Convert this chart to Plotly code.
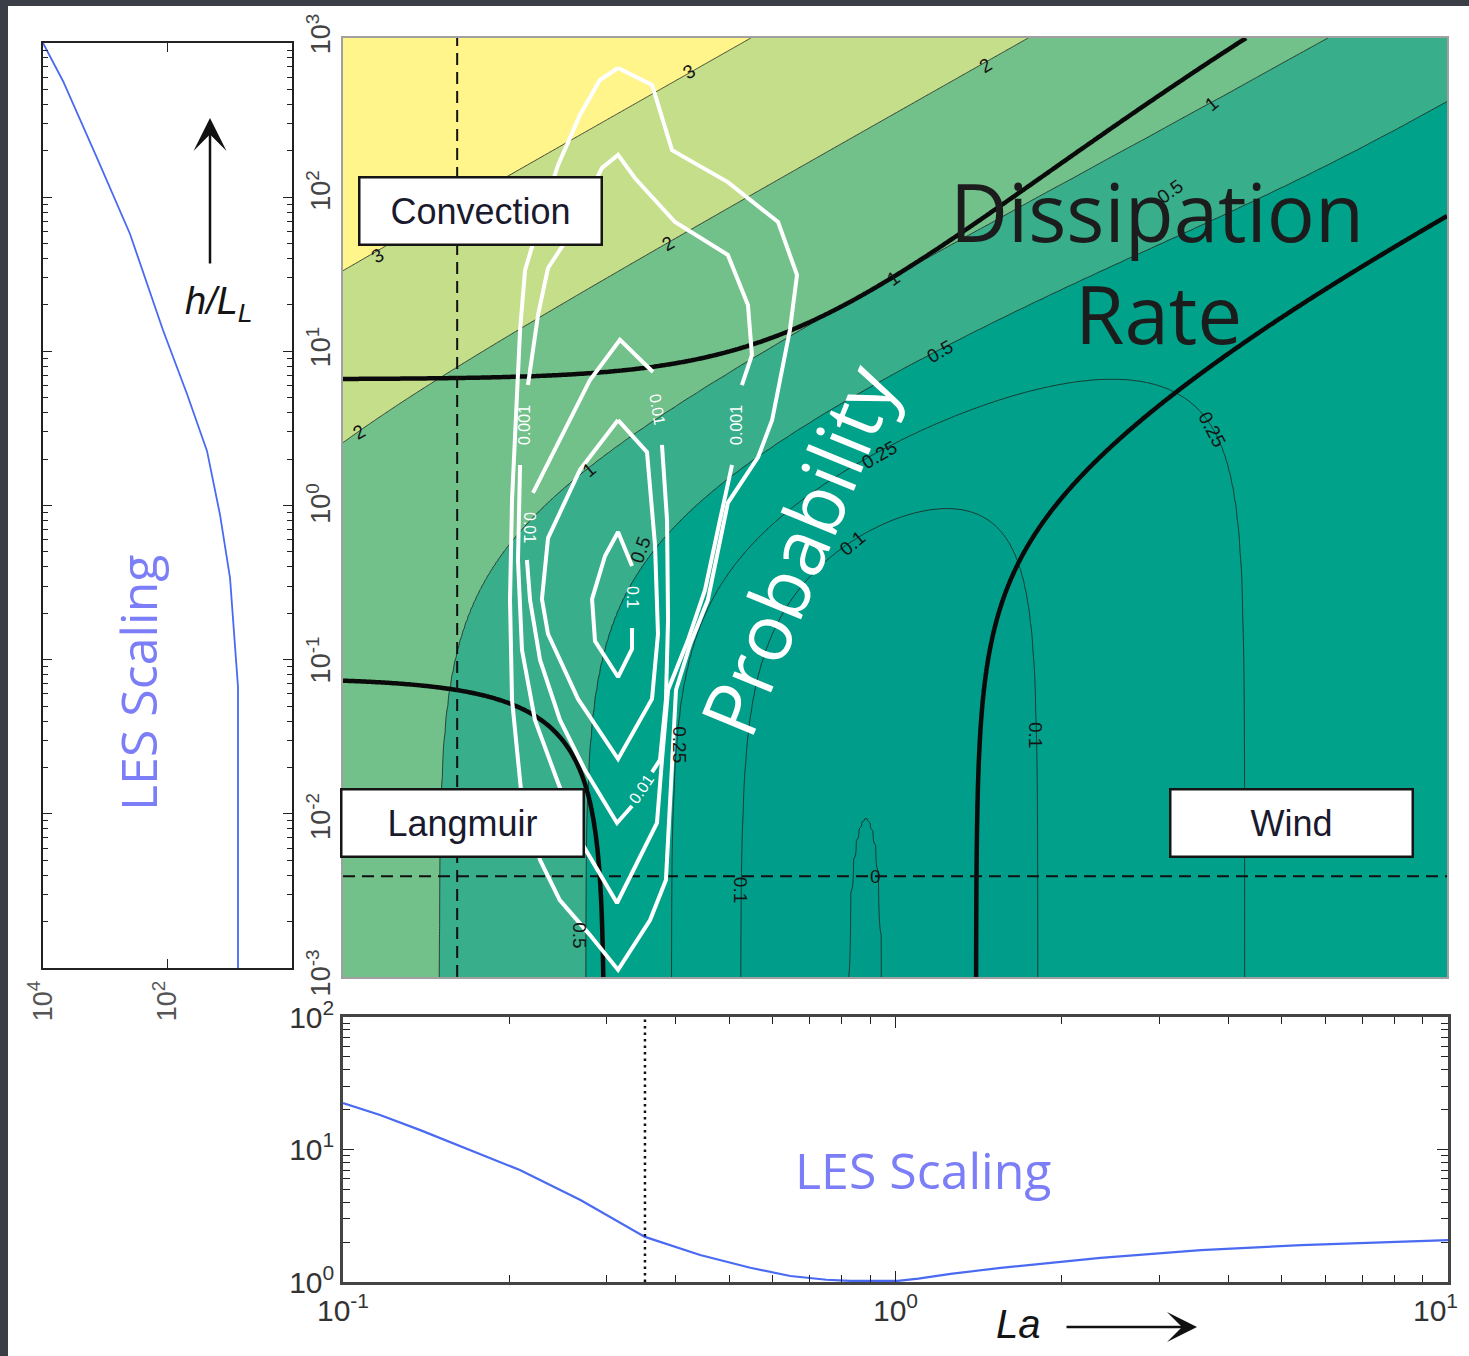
import numpy as np
import plotly.graph_objects as go

W, H = 1469, 1356


def px(x):
    return x / W


def py(y):
    return 1 - y / H


# ---------------- dissipation-rate scaling ----------------
# eps h / u*^3 = A (1 - exp(-b La)) + B La^-2 + C (h/L_L) La^-2
COEF_WIND = 2.0
WIND_DECAY = 0.5
COEF_LANGMUIR = 0.22
COEF_CONVECTION = 0.3
DISS_LEVELS = [0, 0.1, 0.25, 0.5, 1, 2, 3]          # log10 of scaled dissipation
DISS_COLORS = ["#009c89", "#009e8a", "#00a08a", "#00a28a",
               "#38ae8a", "#72c08a", "#c5de8a", "#fff58a"]
REGIME_FRACTION = 0.9                                # thick regime boundaries

# reference lines
LA_DASHED = 0.161
HL_DASHED = 0.0044
LA_DOTTED = 0.352

# LES scaling (left panel): x value vs h/L_L
les_left_x = [10000, 4775, 1358, 400, 118, 48.6, 23.2, 14.3, 9.9, 8.24, 7.37, 7.37]
les_left_hl = [1000, 567, 180, 57.7, 13.7, 5.29, 2.26, 0.867, 0.339, 0.130, 0.0665, 0.001]

# LES scaling (bottom panel): value vs La
les_bot_la = [0.1, 0.1167, 0.138, 0.170, 0.209, 0.269, 0.352, 0.443, 0.546, 0.645,
              0.75, 0.828, 0.92, 1.01, 1.1, 1.258, 1.55, 2.35, 3.57, 5.42, 10]
les_bot_val = [22.4, 18.2, 14.0, 9.9, 7.0, 4.16, 2.19, 1.6, 1.28, 1.11,
               1.04, 1.02, 1.02, 1.02, 1.06, 1.15, 1.28, 1.52, 1.74, 1.90, 2.07]

# probability contours (La, h/L_L); None marks the break for a label
prob_outer_la = [0.315, 0.363, 0.3945, 0.498, 0.614, 0.6645, 0.645, 0.599, 0.565, 0.498,
                 0.458, 0.425, 0.4011, 0.3945, 0.3846, 0.360, 0.315, 0.280, 0.247, 0.2275,
                 0.211, 0.2024, 0.2007, 0.2024, 0.2058, 0.2093, 0.2137, 0.2275, 0.2452,
                 0.2687, 0.292, 0.315]
prob_outer_hl = [643, 501, 192, 120, 66.7, 30.6, 13.6, 3.62, 2.10, 1.07,
                 0.256, 0.132, 0.0682, 0.0244, 0.00417, 0.00231, 0.00111, 0.00186, 0.0031, 0.00559,
                 0.01352, 0.0589, 0.256, 1.12, 3.62, 13.6, 32.9, 68.7, 154,
                 322, 539, 643]

prob_0001_la = [0.2093, 0.2075, 0.211, 0.2227, 0.2442, 0.2687, 0.3136, 0.3705, 0.3783, 0.388,
                0.4217, 0.4527, 0.4819, 0.5067, None,
                0.528, 0.5506, 0.5415, 0.498, 0.3994, 0.3381, 0.315, 0.2946, 0.2525, 0.2352,
                0.2256, 0.2163]
prob_0001_hl = [1.87, 0.462, 0.1229, 0.0439, 0.01815, 0.0075, 0.00297, 0.00964, 0.0244, 0.0682,
                0.1423, 0.297, 0.832, 1.87, None,
                6.06, 9.43, 19.7, 41.1, 66.7, 127, 179, 148, 49.7, 33.9,
                17.0, 6.06]

prob_001_la = [0.3783, 0.3864, 0.388, 0.3846, 0.3752, 0.3629, None,
               0.3339, 0.3136, 0.2744, 0.2472, 0.2275, 0.2182, 0.2154, None,
               0.2209, 0.2472, 0.2802, 0.3175, 0.3644]
prob_001_hl = [2.51, 0.832, 0.191, 0.0589, 0.0244, 0.0204, None,
               0.01238, 0.00964, 0.021, 0.0439, 0.1061, 0.256, 0.462, None,
               1.24, 2.70, 6.53, 11.8, 7.34]

prob_mid_la = [0.315, 0.3554, 0.3675, 0.3721, 0.3629, 0.315, 0.2665, 0.2352, 0.2293, 0.2352,
               0.2687, 0.315]
prob_mid_hl = [3.62, 2.26, 0.576, 0.1555, 0.0598, 0.0247, 0.0598, 0.1555, 0.26, 0.638,
               1.74, 3.62]

prob_01_la = [0.3339, 0.3339, 0.315, 0.2861, 0.2826, 0.2983, 0.315, 0.3339]
prob_01_hl = [0.170, 0.1247, 0.0826, 0.1403, 0.260, 0.490, 0.697, 0.423]

prob_labels = [  # text, La, h/L_L, angle
    ("0.001", 0.2137, 3.37, -90),
    ("0.001", 0.5174, 3.37, -90),
    ("0.01", 0.3705, 4.20, 80),
    ("0.01", 0.2182, 0.750, 90),
    ("0.1", 0.3352, 0.268, 90),
    ("0.01", 0.348, 0.0159, -56),
]

diss_labels = [  # text, La, h/L_L, angle
    ("3", 0.425, 607, -30), ("3", 0.1157, 41, -30),
    ("2", 1.456, 672, -32), ("2", 0.388, 48.3, -30), ("2", 0.1073, 3.04, -30),
    ("1", 3.75, 384, -40), ("1", 0.992, 29.2, -35), ("1", 0.280, 1.74, -40),
    ("0.5", 1.206, 9.86, -30), ("0.5", 3.15, 104, -35), ("0.5", 0.345, 0.535, -70),
    ("0.5", 0.2687, 0.00185, 90),
    ("0.25", 0.939, 2.17, -30), ("0.25", 3.75, 3.13, 62), ("0.25", 0.4077, 0.0303, 90),
    ("0.1", 0.836, 0.593, -40), ("0.1", 1.793, 0.0352, 90), ("0.1", 0.524, 0.0036, 90),
    ("0", 0.920, 0.0044, 0),
]

# ---------------- field on a log grid ----------------
lx = np.linspace(-1, 1, 401)
ly = np.linspace(-3, 3, 601)
la_axis = 10 ** lx
hl_axis = 10 ** ly
LA, HL = np.meshgrid(la_axis, hl_axis)
wind = COEF_WIND * (1 - np.exp(-WIND_DECAY * LA))
lang = COEF_LANGMUIR / LA ** 2
conv = COEF_CONVECTION * HL / LA ** 2
total = wind + lang + conv
log_diss = np.log10(total)
# map the uneven contour levels onto 0..6 so that plotly can use a uniform step
band = np.interp(log_diss, [-1] + DISS_LEVELS + [5], [-1, 0, 1, 2, 3, 4, 5, 6, 8])

fig = go.Figure()

fig.add_trace(go.Contour(
    x=la_axis, y=hl_axis, z=band,
    contours=dict(start=0, end=6, size=1, coloring="fill", showlines=True),
    colorscale=[[k / 7, c] for k, c in enumerate(DISS_COLORS)],
    line=dict(color="#1e1e1e", width=0.8),
    showscale=False, hoverinfo="skip", xaxis="x", yaxis="y"))

for frac in (lang / total, conv / total, wind / total):
    fig.add_trace(go.Contour(
        x=la_axis, y=hl_axis, z=frac,
        contours=dict(start=REGIME_FRACTION, end=REGIME_FRACTION, size=0.1, coloring="none"),
        line=dict(color="#0a0a0a", width=4.5),
        showscale=False, hoverinfo="skip", xaxis="x", yaxis="y"))

# dashed reference lines
fig.add_trace(go.Scatter(x=[LA_DASHED, LA_DASHED], y=[1e-3, 1e3], mode="lines",
                         line=dict(color="#111", width=2, dash="12px,7px"),
                         hoverinfo="skip", xaxis="x", yaxis="y"))
fig.add_trace(go.Scatter(x=[0.1, 10], y=[HL_DASHED, HL_DASHED], mode="lines",
                         line=dict(color="#111", width=2, dash="12px,7px"),
                         hoverinfo="skip", xaxis="x", yaxis="y"))

# probability contours
for xs, ys in ((prob_outer_la, prob_outer_hl), (prob_0001_la, prob_0001_hl),
               (prob_001_la, prob_001_hl), (prob_mid_la, prob_mid_hl),
               (prob_01_la, prob_01_hl)):
    fig.add_trace(go.Scatter(x=xs, y=ys, mode="lines", connectgaps=False,
                             line=dict(color="white", width=4),
                             hoverinfo="skip", xaxis="x", yaxis="y"))

# LES scaling, left panel
fig.add_trace(go.Scatter(x=les_left_x, y=les_left_hl, mode="lines",
                         line=dict(color="#4a6af2", width=1.8),
                         hoverinfo="skip", xaxis="x2", yaxis="y2"))

# LES scaling, bottom panel
fig.add_trace(go.Scatter(x=les_bot_la, y=les_bot_val, mode="lines",
                         line=dict(color="#4a6af2", width=2.2),
                         hoverinfo="skip", xaxis="x3", yaxis="y3"))
fig.add_trace(go.Scatter(x=[LA_DOTTED, LA_DOTTED], y=[1, 100], mode="lines",
                         line=dict(color="#111", width=2.5, dash="2.5px,4px"),
                         hoverinfo="skip", xaxis="x3", yaxis="y3"))

# ---------------- axes ----------------
decades = lambda a, b: [10.0 ** k for k in range(a, b + 1)]
minors = lambda a, b: [m * 10.0 ** k for k in range(a, b) for m in range(2, 10)]
sup = lambda k: "10<sup>%d</sup>" % k
tick_font = dict(family="Liberation Sans", size=27, color="#444")
panel_font = dict(family="Liberation Sans", size=30, color="#333")
# the last La label sits at the figure edge, so it is padded to shift it inwards
la_ticktext = [sup(-1), sup(0), sup(1) + "&nbsp;&nbsp;&nbsp;"]

common = dict(automargin=False, showgrid=False, zeroline=False, ticklabeloverflow="allow")

fig.update_layout(
    template="none",
    width=W, height=H, margin=dict(l=0, r=0, t=0, b=0, pad=0), autosize=False,
    paper_bgcolor="#3b3e46", plot_bgcolor="white", showlegend=False,
    xaxis=dict(domain=[px(343), px(1447)], type="log", range=[-1, 1], anchor="y",
               showticklabels=False, ticks="",
               showline=True, linecolor="#a0a0a0", linewidth=1.5, mirror=True, **common),
    yaxis=dict(domain=[py(977), py(38)], type="log", range=[-3, 3], anchor="x",
               tickmode="array", tickvals=decades(-3, 3),
               ticktext=[sup(k) for k in range(-3, 4)], tickangle=-90,
               tickfont=tick_font, ticks="",
               showline=True, linecolor="#a0a0a0", linewidth=1.5, mirror=True, **common),
    xaxis2=dict(domain=[px(43), px(292)], type="log", range=[4, 0], anchor="y2",
                tickmode="array", tickvals=[1e4, 1e2], ticktext=[sup(4), sup(2)],
                tickangle=-90, tickfont=dict(family="Liberation Sans", size=27, color="#555"),
                ticks="inside", ticklen=9, tickcolor="#222",
                showline=True, linecolor="#222", linewidth=2, mirror="allticks", **common),
    yaxis2=dict(domain=[py(968), py(43)], type="log", range=[-3, 3], anchor="x2",
                tickmode="array", tickvals=decades(-3, 3), showticklabels=False,
                ticks="inside", ticklen=9, tickcolor="#222",
                minor=dict(tickmode="array", tickvals=minors(-3, 3), ticks="inside",
                           ticklen=5, tickcolor="#222"),
                showline=True, linecolor="#222", linewidth=2, mirror="allticks", **common),
    xaxis3=dict(domain=[px(343), px(1448)], type="log", range=[-1, 1], anchor="y3",
                tickmode="array", tickvals=decades(-1, 1), ticktext=la_ticktext,
                tickfont=panel_font,
                ticks="inside", ticklen=11, tickcolor="#222",
                minor=dict(tickmode="array", tickvals=minors(-1, 1), ticks="inside",
                           ticklen=7, tickcolor="#222"),
                showline=True, linecolor="#444", linewidth=2.5, mirror="allticks", **common),
    yaxis3=dict(domain=[py(1282), py(1017)], type="log", range=[0, 2], anchor="x3",
                tickmode="array", tickvals=decades(0, 2), ticktext=[sup(k) for k in (0, 1, 2)],
                tickfont=panel_font,
                ticks="inside", ticklen=11, tickcolor="#222",
                minor=dict(tickmode="array", tickvals=minors(0, 2), ticks="inside",
                           ticklen=7, tickcolor="#222"),
                showline=True, linecolor="#444", linewidth=2.5, mirror="allticks", **common),
    shapes=[dict(type="rect", xref="paper", yref="paper", x0=px(8), x1=1, y0=0, y1=py(6),
                 fillcolor="white", line=dict(width=0), layer="below")],
)

ann = []

# contour labels of the dissipation field
for txt, la, hl, ang in diss_labels:
    ann.append(dict(x=np.log10(la), y=np.log10(hl), xref="x", yref="y", text=txt,
                    showarrow=False, textangle=ang, xanchor="center", yanchor="middle",
                    font=dict(family="Liberation Sans", size=19, color="#151515")))

# labels of the probability contours
for txt, la, hl, ang in prob_labels:
    ann.append(dict(x=np.log10(la), y=np.log10(hl), xref="x", yref="y", text=txt,
                    showarrow=False, textangle=ang, xanchor="center", yanchor="middle",
                    font=dict(family="Liberation Sans", size=16, color="white")))

# regime boxes
for txt, cx, cy in (("Convection", 480.5, 211), ("Langmuir", 462.5, 823), ("Wind", 1291, 823)):
    ann.append(dict(x=px(cx), y=py(cy), xref="paper", yref="paper", text=txt,
                    showarrow=False, xanchor="center", yanchor="middle",
                    width=236, height=61, bgcolor="white", bordercolor="#151515",
                    borderwidth=2.5, borderpad=2,
                    font=dict(family="Liberation Sans", size=36, color="#1a1a2e")))


def label(text, cx, cy, size, color, angle=0, family="Open Sans"):
    return dict(x=px(cx), y=py(cy), xref="paper", yref="paper", text=text,
                showarrow=False, textangle=angle, xanchor="center", yanchor="middle",
                font=dict(family=family, size=size, color=color))


ann += [
    label("Dissipation", 1157, 210, 80, "#1c1c1c"),
    label("Rate", 1158, 312, 80, "#1c1c1c"),
    label("Probability", 797, 550, 78, "white", angle=-67.7),
    label("LES Scaling", 138, 683, 50, "#7b7ef6", angle=-90),
    label("LES Scaling", 923, 1170, 50, "#7b7ef6"),
    label("<i>h/L<sub>L</sub></i>", 219, 304, 38, "#151515", family="Liberation Sans"),
    label("<i>La</i>", 1018, 1324, 40, "#151515", family="Liberation Sans"),
    # axis direction arrows
    dict(x=px(210), y=py(118), xref="paper", yref="paper", text="", showarrow=True,
         ax=0, ay=147, arrowhead=3, arrowsize=2.2, arrowwidth=2.5, arrowcolor="#111"),
    dict(x=px(1197), y=py(1327), xref="paper", yref="paper", text="", showarrow=True,
         ax=-132, ay=0, arrowhead=3, arrowsize=2.0, arrowwidth=2.5, arrowcolor="#111"),
]
fig.update_layout(annotations=ann)

fig.write_html("out.html")
